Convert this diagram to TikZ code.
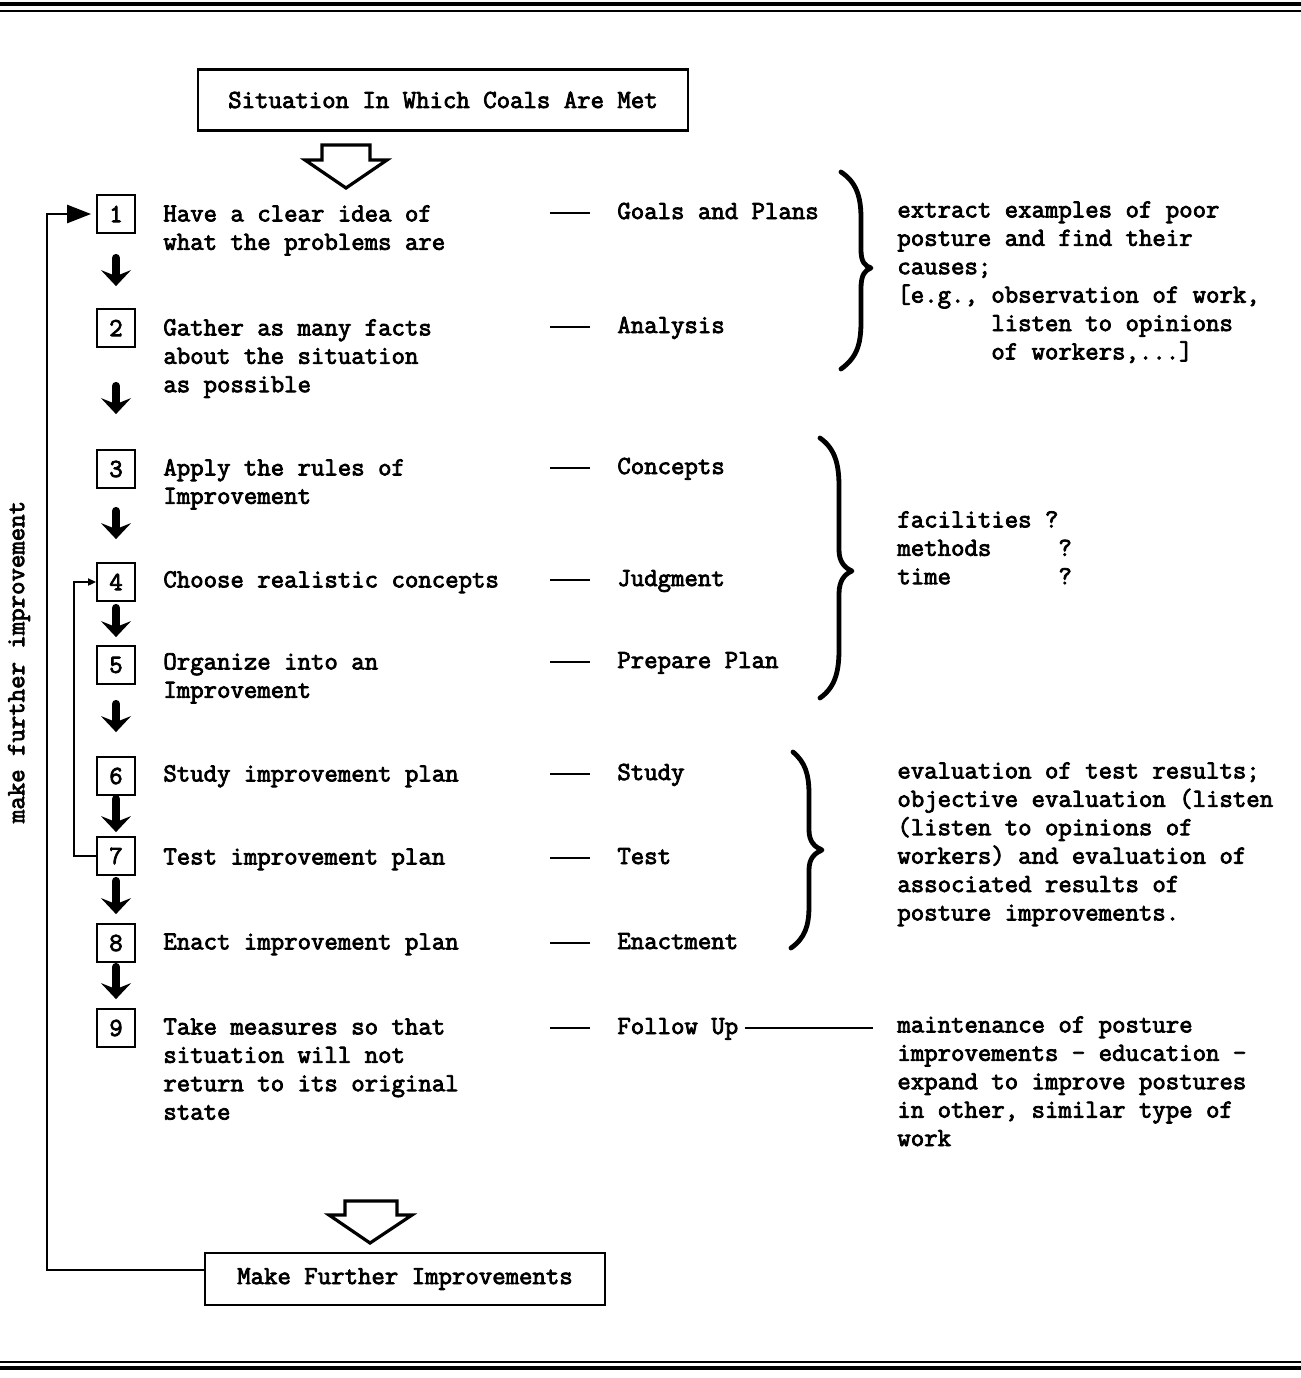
\documentclass[tikz,border=0pt]{standalone}
\usepackage{fontspec}
\setmainfont{Latin Modern Mono}[FakeBold=3]
\usetikzlibrary{arrows.meta,calc}
% fixed first-line height so that multi-line blocks can be hung from their top
\newcommand{\fl}{\rule{0pt}{10pt}}

\begin{document}
\begin{tikzpicture}[x=0.5pt,y=-0.5pt,
  font=\fontsize{13.03}{14.2}\selectfont,
  frame/.style={draw,line width=1.1pt,inner sep=0pt},
  numbox/.style={draw,line width=0.9pt,minimum width=19pt,minimum height=19pt,inner sep=0pt},
  txt/.style={anchor=north west,align=left,inner sep=0pt},
  lab/.style={anchor=base west,inner sep=0pt,text height=8pt,text depth=2pt},
  dashl/.style={line width=1pt},
  dnarrow/.style={line width=4pt,line cap=round,-{Stealth[length=8pt,width=15pt,inset=3pt]}},
  loopline/.style={line width=1.3pt},
  thinloop/.style={line width=0.9pt},
  bracel/.style={line width=2.4pt,line cap=round,line join=round},
  hollow/.style={draw,line width=1.6pt,line join=miter},
  rule/.style={line width=1.3pt}]

\useasboundingbox (0,0) rectangle (1301,1378);

% page rules
\draw[rule,line width=1.6pt] (0,4) -- (1301,4);
\draw[rule] (0,11) -- (1301,11);
\draw[rule] (0,1362) -- (1301,1362);
\draw[rule,line width=1.6pt] (0,1368) -- (1301,1368);

% start and end boxes
\node[frame,minimum width=245pt,minimum height=30.5pt] (top) at (443,100) {Situation In Which Coals Are Met};
\node[frame,minimum width=200pt,minimum height=26pt] (mfi) at (405,1279) {Make Further Improvements};

% hollow arrows
\draw[hollow] (322,145) -- (370,145) -- (370,160) -- (387,160) -- (346,188) -- (305,160) -- (322,160) -- cycle;
\draw[hollow] (345,1201) -- (397,1201) -- (397,1215) -- (412,1215) -- (370,1243) -- (329,1215) -- (345,1215) -- cycle;

% numbered steps
\node[numbox] (n1) at (116,214) {1};
\node[numbox] (n2) at (116,328) {2};
\node[numbox] (n3) at (116,469) {3};
\node[numbox] (n4) at (116,582) {4};
\node[numbox] (n5) at (116,665) {5};
\node[numbox] (n6) at (116,776) {6};
\node[numbox] (n7) at (116,856) {7};
\node[numbox] (n8) at (116,943) {8};
\node[numbox] (n9) at (116,1028) {9};

% step arrows
\draw[dnarrow] ($(n1.south)+(0,24)$) -- ($(n2.north)+(0,-22)$);
\draw[dnarrow] ($(n2.south)+(0,38)$) -- ($(n3.north)+(0,-35)$);
\draw[dnarrow] ($(n3.south)+(0,22)$) -- ($(n4.north)+(0,-23)$);
\draw[dnarrow] ($(n4.south)+(0,6)$) -- ($(n5.north)+(0,-8)$);
\draw[dnarrow] ($(n5.south)+(0,19)$) -- ($(n6.north)+(0,-24)$);
\draw[dnarrow] ($(n6.south)+(0,3)$) -- ($(n7.north)+(0,-4)$);
\draw[dnarrow] ($(n7.south)+(0,5)$) -- ($(n8.north)+(0,-9)$);
\draw[dnarrow] ($(n8.south)+(0,4)$) -- ($(n9.north)+(0,-9)$);

% feedback loops
\draw[loopline,-{Triangle[length=12pt,width=9pt]},shorten >=2.5pt]
  ([yshift=4.5pt]mfi.west) -| ($(n1.west)+(-49,0)$) -- (n1.west);
\draw[thinloop,-{Triangle[length=4pt,width=3.5pt]}]
  (n7.west) -| ($(n4.west)+(-22,0)$) -- (n4.west);
\node[rotate=90,inner sep=0pt] (vt) at (19,662) {make further improvement};

% step descriptions
\node[txt] (s1) at (163,201) {\fl Have a clear idea of\\what the problems are};
\node[txt] (s2) at (163,315) {\fl Gather as many facts\\about the situation\\as possible};
\node[txt] (s3) at (163,455) {\fl Apply the rules of\\Improvement};
\node[txt] (s4) at (163,567) {\fl Choose realistic concepts};
\node[txt] (s5) at (163,649) {\fl Organize into an\\Improvement};
\node[txt] (s6) at (163,761) {\fl Study improvement plan};
\node[txt] (s7) at (163,844) {\fl Test improvement plan};
\node[txt] (s8) at (163,929) {\fl Enact improvement plan};
\node[txt] (s9) at (163,1014) {\fl Take measures so that\\situation will not\\return to its original\\state};

% phase labels
\node[lab] (l1) at (617,219) {Goals and Plans};
\node[lab] (l2) at (617,333) {Analysis};
\node[lab] (l3) at (617,474) {Concepts};
\node[lab] (l4) at (617,586) {Judgment};
\node[lab] (l5) at (617,668) {Prepare Plan};
\node[lab] (l6) at (617,780) {Study};
\node[lab] (l7) at (617,864) {Test};
\node[lab] (l8) at (617,949) {Enactment};
\node[lab] (l9) at (617,1034) {Follow Up};
\foreach \i in {1,...,9}
  \draw[dashl] ([xshift=-13.5pt]l\i.west) -- ++(-40,0);

% braces
\draw[bracel] (841,172) .. controls (856,182) and (861,196) .. (861,218)
  -- (861,250) .. controls (861,262) and (865,266) .. (871,268)
  .. controls (865,270) and (861,275) .. (861,288)
  -- (861,322) .. controls (861,346) and (856,358) .. (841,369);
\draw[bracel] (820,438) .. controls (834,448) and (839,462) .. (839,486)
  -- (839,550) .. controls (839,562) and (845,568) .. (852,571)
  .. controls (845,574) and (839,580) .. (839,594)
  -- (839,650) .. controls (839,674) and (834,688) .. (820,698);
\draw[bracel] (793,752) .. controls (805,762) and (809,774) .. (809,794)
  -- (809,830) .. controls (809,842) and (815,847) .. (822,850)
  .. controls (815,853) and (809,858) .. (809,870)
  -- (809,906) .. controls (809,926) and (805,938) .. (791,948);

% notes
\node[txt] (r1) at (897,197) {\fl extract examples of poor\\posture and find their\\causes;\\{[e.g.,} observation of work,\\\hphantom{[e.g., }listen to opinions\\\hphantom{[e.g., }of workers,...]};
\node[txt] (r2) at (897,507) {\fl facilities ?\\methods\hphantom{xxxx} ?\\time\hphantom{xxxxxxx} ?};
\node[txt] (r3) at (897,758) {\fl evaluation of test results;\\objective evaluation (listen\\(listen to opinions of\\workers) and evaluation of\\associated results of\\posture improvements.};
\node[txt] (r4) at (897,1012) {\fl maintenance of posture\\improvements \textendash{} education \textendash\\expand to improve postures\\in other, similar type of\\work};
\draw[dashl] ([xshift=3pt]l9.east) -- ++(128,0);
\end{tikzpicture}
\end{document}
